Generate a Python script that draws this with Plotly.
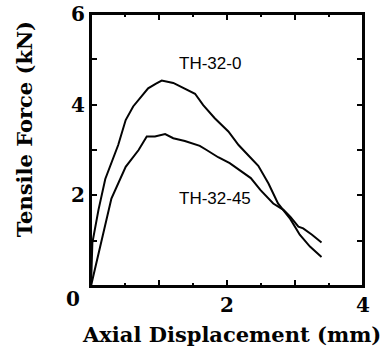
import plotly.graph_objects as go

# Data
th32_0_x = [0, 0.02, 0.11, 0.21, 0.40, 0.51, 0.62, 0.84, 0.95, 1.04, 1.21, 1.38, 1.53, 1.65,
            1.82, 2.02, 2.17, 2.34, 2.46, 2.61, 2.75, 2.93, 3.07, 3.22, 3.39]
th32_0_y = [0, 0.95, 1.68, 2.36, 3.11, 3.66, 3.96, 4.36, 4.46, 4.53, 4.48, 4.36, 4.24, 3.99,
            3.70, 3.41, 3.11, 2.84, 2.65, 2.26, 1.82, 1.48, 1.13, 0.87, 0.64]

th32_45_x = [0, 0.30, 0.51, 0.70, 0.82, 0.94, 1.09, 1.21, 1.38, 1.60, 1.70, 1.87, 2.04, 2.22,
             2.35, 2.49, 2.68, 2.83, 2.93, 3.05, 3.12, 3.25, 3.39]
th32_45_y = [0, 1.93, 2.63, 3.00, 3.30, 3.30, 3.35, 3.26, 3.20, 3.09, 3.00, 2.84, 2.71, 2.52,
             2.38, 2.12, 1.82, 1.68, 1.53, 1.31, 1.27, 1.13, 0.96]

x_tickvals = [0, 1, 2, 3, 4]
x_ticktext = ["", "", "2", "", "4"]
x_minorvals = [0.5, 1.5, 2.5, 3.5]
y_tickvals = [0, 1, 2, 3, 4, 5, 6]
y_ticktext = ["", "", "2", "", "4", "", "6"]

serif = "DejaVu Serif"
sans = "Liberation Sans, Arial, sans-serif"

fig = go.Figure()
fig.add_trace(go.Scatter(x=th32_0_x, y=th32_0_y, mode="lines",
                         line=dict(color="black", width=2), name="TH-32-0"))
fig.add_trace(go.Scatter(x=th32_45_x, y=th32_45_y, mode="lines",
                         line=dict(color="black", width=2), name="TH-32-45"))
# invisible trace carrying the minor-tick overlay axis
fig.add_trace(go.Scatter(x=[0, 4], y=[0, 6], mode="lines", xaxis="x2",
                         line=dict(color="rgba(0,0,0,0)", width=0), hoverinfo="skip",
                         showlegend=False))

axis_common = dict(showgrid=False, zeroline=False, showline=True, linecolor="black",
                   linewidth=2, mirror="ticks", ticks="inside", ticklen=6, tickwidth=1.5,
                   tickcolor="black", tickmode="array",
                   tickfont=dict(family=serif, size=20, color="black", weight="bold"))

fig.update_layout(
    xaxis=dict(range=[0, 4], tickvals=x_tickvals, ticktext=x_ticktext, **axis_common),
    yaxis=dict(range=[0, 6], tickvals=y_tickvals, ticktext=y_ticktext, **axis_common),
    xaxis2=dict(range=[0, 4], overlaying="x", anchor="y", side="bottom",
                tickmode="array", tickvals=x_minorvals, ticks="inside", ticklen=3,
                tickwidth=1.5, tickcolor="black", showticklabels=False, mirror="ticks",
                showgrid=False, zeroline=False, showline=False),
)

# plot frame (same position as the mirrored axis lines)
fig.add_shape(type="rect", xref="paper", yref="paper", x0=0, x1=1, y0=0, y1=1,
              line=dict(color="black", width=2), layer="above")

fig.add_annotation(x=1.75, y=4.90, xref="x", yref="y", text="TH-32-0", showarrow=False,
                   font=dict(family=sans, size=17, color="black"))
fig.add_annotation(x=1.82, y=1.92, xref="x", yref="y", text="TH-32-45", showarrow=False,
                   font=dict(family=sans, size=17, color="black"))

# corner "0" label
fig.add_annotation(x=-0.066, y=-0.048, xref="paper", yref="paper", text="<b>0</b>", showarrow=False,
                   xanchor="center", yanchor="middle",
                   font=dict(family=serif, size=20, color="black"))
# axis titles
fig.add_annotation(x=0.515, y=-0.18, xref="paper", yref="paper", text="<b>Axial Displacement (mm)</b>",
                   showarrow=False, xanchor="center", yanchor="middle",
                   font=dict(family=serif, size=21, color="black"))
fig.add_annotation(x=-0.246, y=0.577, xref="paper", yref="paper", text="<b>Tensile Force (kN)</b>",
                   showarrow=False, xanchor="center", yanchor="middle", textangle=-90,
                   font=dict(family=serif, size=21, color="black"))

fig.update_layout(width=381, height=350, showlegend=False,
                  margin=dict(l=91, r=18, t=14, b=64, autoexpand=False),
                  paper_bgcolor="white", plot_bgcolor="white")

# force a full repaint of the page once the plot has been drawn
js = """
document.body.style.margin='0';
setTimeout(function(){
 var d=document.createElement('div');
 d.style.cssText='position:absolute;left:0;top:0;width:381px;height:350px;background:rgba(255,255,255,0.01);pointer-events:none';
 document.body.appendChild(d);
},200);
"""
fig.write_html("out.html", config={"displayModeBar": False}, post_script=js)
